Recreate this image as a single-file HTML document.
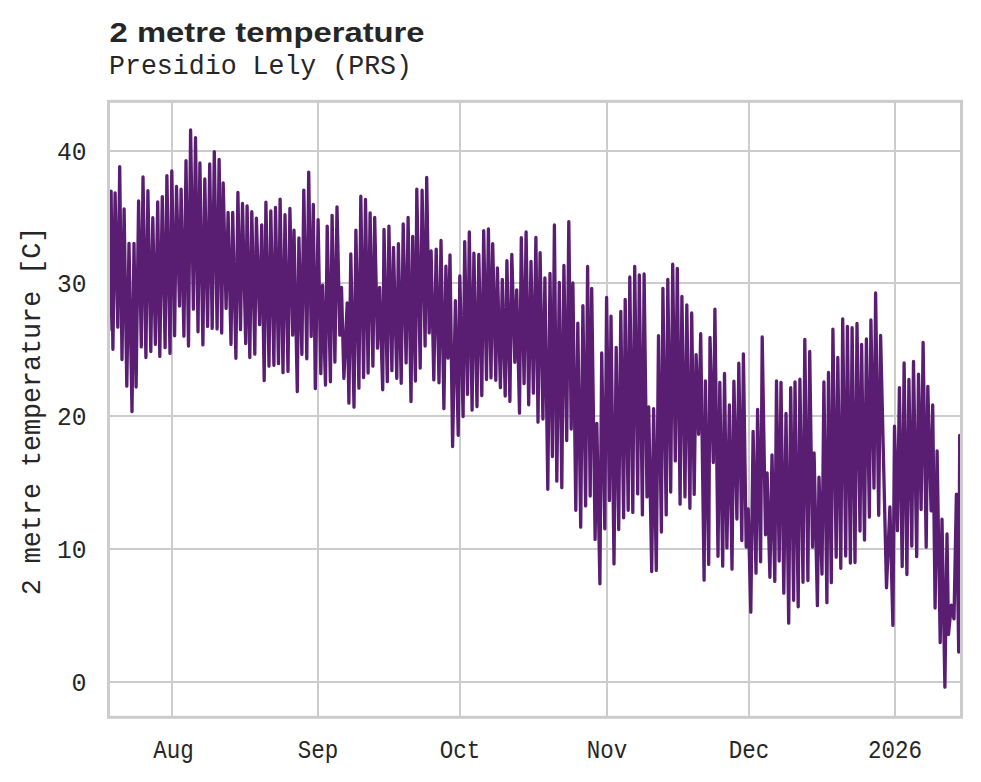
<!DOCTYPE html>
<html><head><meta charset="utf-8"><style>
html,body{margin:0;padding:0;background:#fff;width:981px;height:782px;overflow:hidden}
svg{display:block}
.mono{font-family:"Liberation Mono",monospace}
</style></head><body>
<svg width="981" height="782" viewBox="0 0 981 782">
<rect width="981" height="782" fill="#fff"/>
<text x="109.6" y="42" font-family="Liberation Sans, sans-serif" font-weight="bold" font-size="28" fill="#262626" textLength="315" lengthAdjust="spacingAndGlyphs">2 metre temperature</text>
<text x="109" y="74" class="mono" font-size="28" fill="#262626" textLength="303" lengthAdjust="spacingAndGlyphs">Presidio Lely (PRS)</text>
<g stroke="#cccccc" stroke-width="2"><line x1="108.5" x2="961.5" y1="682.00" y2="682.00"/><line x1="108.5" x2="961.5" y1="549.00" y2="549.00"/><line x1="108.5" x2="961.5" y1="416.00" y2="416.00"/><line x1="108.5" x2="961.5" y1="283.00" y2="283.00"/><line x1="108.5" x2="961.5" y1="151.00" y2="151.00"/><line x1="172" x2="172" y1="101.35" y2="717.3"/><line x1="318" x2="318" y1="101.35" y2="717.3"/><line x1="460" x2="460" y1="101.35" y2="717.3"/><line x1="607" x2="607" y1="101.35" y2="717.3"/><line x1="749" x2="749" y1="101.35" y2="717.3"/><line x1="895" x2="895" y1="101.35" y2="717.3"/></g>
<path d="M109.0,330.0 L111.1,191.2 L112.9,349.3 L115.1,192.8 L117.8,327.2 L119.7,166.6 L122.0,359.6 L124.1,208.9 L126.8,386.2 L129.0,243.3 L132.0,411.6 L134.0,243.3 L136.1,387.0 L138.6,201.0 L141.3,346.9 L143.0,177.0 L145.9,357.5 L147.9,190.7 L150.8,351.5 L152.8,217.7 L155.4,344.4 L157.7,201.8 L159.8,356.4 L162.3,196.6 L165.1,347.7 L166.9,175.6 L170.0,353.4 L171.8,171.0 L174.6,335.8 L176.5,186.3 L179.5,306.0 L181.1,189.2 L183.9,336.2 L186.0,160.6 L188.5,346.1 L190.6,129.8 L193.4,309.2 L195.5,137.7 L198.0,331.8 L199.9,162.9 L202.9,344.9 L204.8,178.9 L207.6,326.4 L209.7,163.9 L212.2,328.4 L214.3,151.6 L217.1,328.9 L219.1,159.3 L221.7,333.0 L223.2,183.0 L226.1,308.4 L228.1,212.5 L231.0,344.4 L232.7,212.5 L235.9,358.3 L237.9,192.3 L240.5,329.7 L242.5,203.5 L245.7,343.6 L247.1,206.0 L249.8,357.5 L251.8,211.7 L254.8,354.2 L256.4,218.2 L259.6,324.6 L261.7,224.8 L264.2,380.6 L265.9,202.2 L269.0,366.2 L270.8,210.9 L273.9,365.3 L275.5,207.3 L278.5,363.7 L280.1,199.1 L283.0,372.7 L285.0,214.7 L288.0,371.4 L289.9,208.5 L292.7,335.1 L294.0,230.2 L297.3,391.6 L298.9,237.9 L301.9,354.4 L303.8,190.1 L306.8,358.8 L308.7,172.1 L311.2,336.4 L313.3,204.4 L315.3,388.6 L318.1,219.6 L320.8,373.6 L322.6,285.2 L325.5,385.1 L327.2,226.1 L330.4,381.8 L332.1,215.3 L334.9,362.1 L337.0,206.8 L339.8,335.1 L341.5,287.4 L343.9,378.4 L347.2,302.9 L348.9,403.2 L350.8,254.0 L354.0,407.2 L355.9,230.1 L358.9,388.2 L360.8,196.2 L363.6,377.6 L365.5,199.5 L368.1,373.0 L370.1,213.0 L372.9,366.2 L374.7,217.5 L377.5,348.2 L379.6,287.4 L382.7,389.8 L384.0,229.4 L387.3,381.7 L388.9,226.1 L391.9,370.7 L393.5,247.4 L396.8,378.4 L398.4,243.7 L401.2,383.3 L403.2,224.0 L406.1,362.9 L408.1,217.5 L411.0,401.5 L412.7,236.3 L415.4,381.0 L416.8,189.2 L420.2,368.1 L422.1,190.2 L425.1,346.0 L426.7,177.5 L429.2,332.9 L431.1,250.8 L433.8,379.9 L436.2,249.1 L439.0,382.8 L441.0,240.5 L443.9,408.6 L445.9,266.2 L448.0,358.2 L450.0,254.9 L452.6,446.5 L455.4,300.7 L458.2,435.3 L459.8,276.0 L463.1,416.5 L464.7,241.6 L467.5,394.4 L469.3,232.0 L472.1,410.1 L473.9,253.2 L477.0,406.6 L478.8,254.4 L481.8,395.6 L483.7,230.6 L486.5,379.5 L488.4,229.0 L491.0,377.9 L492.7,243.7 L495.8,380.3 L497.4,267.8 L500.4,387.6 L502.3,279.3 L505.2,396.0 L506.9,260.6 L509.9,401.4 L511.8,254.4 L514.8,362.3 L516.7,289.9 L519.5,413.2 L521.3,237.7 L524.1,383.6 L526.1,232.0 L528.7,404.8 L531.0,261.3 L533.4,393.2 L535.9,237.5 L538.0,422.2 L540.1,252.7 L542.9,419.0 L544.9,277.8 L547.8,489.3 L550.0,273.5 L552.4,456.6 L554.4,224.9 L556.8,481.2 L559.3,282.5 L561.8,487.7 L563.9,265.5 L566.7,440.5 L568.8,221.6 L571.2,429.1 L572.9,283.0 L575.8,510.3 L577.8,323.1 L580.7,527.2 L582.9,305.6 L585.6,505.9 L587.6,266.3 L590.2,496.1 L591.7,288.3 L595.1,539.4 L596.8,423.4 L599.9,583.8 L601.7,353.0 L604.8,528.8 L606.6,297.4 L609.4,500.5 L611.0,316.1 L614.0,563.9 L616.2,347.3 L618.7,529.6 L620.8,311.3 L623.6,517.8 L625.2,299.4 L628.2,510.3 L629.8,277.0 L632.8,512.4 L634.7,266.3 L637.7,493.9 L639.3,274.8 L642.4,514.9 L644.1,274.0 L647.0,496.9 L648.7,407.0 L651.7,571.5 L653.6,408.7 L656.3,570.4 L658.5,335.6 L661.4,532.1 L662.9,288.3 L666.2,514.9 L667.8,279.4 L670.7,492.0 L672.7,264.2 L675.3,460.9 L677.3,268.3 L680.1,504.2 L681.9,296.4 L685.0,496.9 L686.8,304.8 L689.9,508.3 L691.7,313.0 L694.2,494.4 L696.1,354.6 L698.6,434.3 L700.7,333.6 L704.1,580.2 L705.4,380.8 L708.7,564.4 L710.0,337.4 L713.3,462.5 L714.9,309.2 L718.0,556.3 L719.8,382.5 L722.7,566.2 L724.5,373.5 L726.9,547.9 L729.4,405.0 L732.0,569.2 L733.9,381.2 L736.9,519.0 L738.8,363.2 L741.8,540.5 L743.4,353.9 L746.2,547.1 L748.2,509.0 L750.8,612.2 L753.1,431.3 L756.0,573.2 L757.6,409.3 L760.6,561.8 L762.2,337.0 L765.5,534.8 L767.1,473.0 L769.9,577.3 L772.0,455.0 L774.8,581.4 L776.5,380.9 L779.2,561.0 L781.0,382.3 L783.8,593.2 L786.0,413.5 L788.7,623.2 L790.7,387.7 L793.6,600.3 L795.0,382.0 L798.2,606.8 L799.9,379.2 L803.0,582.3 L804.8,339.5 L807.9,580.6 L809.7,351.4 L812.5,547.1 L814.1,453.0 L817.4,605.7 L819.0,477.1 L822.0,574.1 L823.9,382.0 L826.9,602.7 L828.5,372.5 L831.3,582.7 L832.9,329.2 L836.2,557.2 L837.8,357.5 L840.8,568.3 L842.7,318.8 L845.7,556.1 L847.4,326.3 L850.4,563.1 L852.1,327.7 L855.0,562.6 L857.0,323.5 L860.0,531.1 L861.6,344.5 L864.5,540.1 L866.4,338.9 L869.4,517.1 L870.9,320.0 L874.0,488.1 L875.6,293.0 L878.7,515.3 L880.6,335.5 L886.5,587.8 L889.9,506.9 L892.9,625.4 L894.5,426.2 L897.4,530.7 L899.4,387.6 L902.2,566.6 L904.1,362.8 L906.9,574.5 L908.9,379.5 L911.8,546.1 L913.5,361.5 L916.7,556.6 L918.5,374.2 L921.1,509.5 L923.1,342.4 L926.2,547.2 L927.8,386.3 L931.1,510.8 L932.7,404.9 L935.1,608.1 L937.1,450.8 L940.2,642.6 L942.0,519.2 L944.9,687.2 L947.0,533.9 L948.5,634.6 L951.3,605.1 L954.0,618.9 L956.4,494.2 L958.7,652.0 L959.7,435.5" fill="none" stroke="#591d72" stroke-width="3.3" stroke-linejoin="round" stroke-linecap="round"/>
<rect x="108.5" y="101.35" width="853.0" height="615.9499999999999" fill="none" stroke="#cccccc" stroke-width="3"/>
<g class="mono" font-size="25" fill="#262626"><text x="86.4" y="691.10" text-anchor="end" textLength="15" lengthAdjust="spacingAndGlyphs">0</text><text x="86.4" y="558.10" text-anchor="end" textLength="29.5" lengthAdjust="spacingAndGlyphs">10</text><text x="86.4" y="425.10" text-anchor="end" textLength="29.5" lengthAdjust="spacingAndGlyphs">20</text><text x="86.4" y="292.10" text-anchor="end" textLength="29.5" lengthAdjust="spacingAndGlyphs">30</text><text x="86.4" y="160.10" text-anchor="end" textLength="29.5" lengthAdjust="spacingAndGlyphs">40</text><text x="173.5" y="757.6" text-anchor="middle" textLength="40.5" lengthAdjust="spacingAndGlyphs">Aug</text><text x="318" y="757.6" text-anchor="middle" textLength="40.5" lengthAdjust="spacingAndGlyphs">Sep</text><text x="460" y="757.6" text-anchor="middle" textLength="40.5" lengthAdjust="spacingAndGlyphs">Oct</text><text x="607" y="757.6" text-anchor="middle" textLength="40.5" lengthAdjust="spacingAndGlyphs">Nov</text><text x="749" y="757.6" text-anchor="middle" textLength="40.5" lengthAdjust="spacingAndGlyphs">Dec</text><text x="895" y="757.6" text-anchor="middle" textLength="54" lengthAdjust="spacingAndGlyphs">2026</text></g>
<text transform="translate(40.2,411) rotate(-90)" text-anchor="middle" class="mono" font-size="28" fill="#262626" textLength="368.5" lengthAdjust="spacingAndGlyphs">2 metre temperature [C]</text>
</svg></body></html>
